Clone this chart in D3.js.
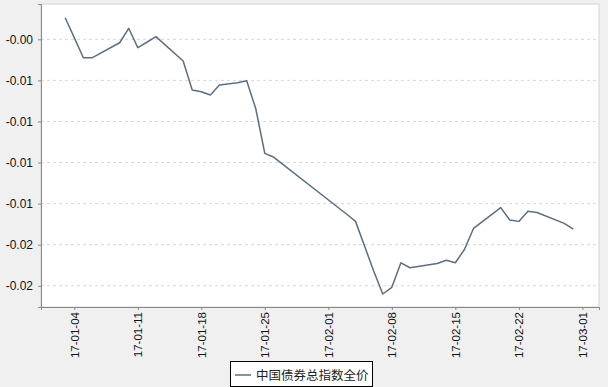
<!DOCTYPE html>
<html>
<head>
<meta charset="utf-8">
<script src="https://cdn.jsdelivr.net/npm/d3@7"></script>
<style>
  body { margin: 0; background: #f0f0f0; }
  svg { display: block; }
</style>
</head>
<body>
<div id="chart"></div>
<script>
// trading days, Jan-Feb 2017
var dates = ["2017-01-03","2017-01-04","2017-01-05","2017-01-06","2017-01-09","2017-01-10","2017-01-11","2017-01-12","2017-01-13",
  "2017-01-16","2017-01-17","2017-01-18","2017-01-19","2017-01-20","2017-01-22","2017-01-23","2017-01-24","2017-01-25","2017-01-26",
  "2017-02-03","2017-02-04","2017-02-06","2017-02-07","2017-02-08","2017-02-09","2017-02-10",
  "2017-02-13","2017-02-14","2017-02-15","2017-02-16","2017-02-17","2017-02-20","2017-02-21","2017-02-22","2017-02-23","2017-02-24",
  "2017-02-27","2017-02-28"];
var values = [-0.00119,-0.00240,-0.00362,-0.00362,-0.00271,-0.00183,-0.00301,-0.00268,-0.00234,
  -0.00382,-0.00559,-0.00569,-0.00589,-0.00528,-0.00514,-0.00502,-0.00671,-0.00944,-0.00968,
  -0.01313,-0.01358,-0.01660,-0.01800,-0.01759,-0.01610,-0.01640,
  -0.01614,-0.01595,-0.01610,-0.01529,-0.01401,-0.01274,-0.01350,-0.01358,-0.01297,-0.01304,
  -0.01370,-0.01405];
var seriesName = "中国债券总指数全价";

var yTicks = [-0.0025,-0.005,-0.0075,-0.01,-0.0125,-0.015,-0.0175];
var yTickLabels = ["-0.00","-0.01","-0.01","-0.01","-0.01","-0.02","-0.02"];
var xTicks = ["2017-01-04","2017-01-11","2017-01-18","2017-01-25","2017-02-01","2017-02-08","2017-02-15","2017-02-22","2017-03-01"];

var w = 608, h = 387;
var pLeft = 41, pTop = 4, pRight = 599, pBottom = 307;
var parse = d3.timeParse("%Y-%m-%d");
var fmt = d3.timeFormat("%y-%m-%d");

var data = dates.map(function(d, i){ return {date: parse(d), value: values[i]}; });

var x = d3.scaleTime()
  .domain([new Date(2016, 11, 31, 8), new Date(2017, 2, 2, 20)])
  .range([pLeft, pRight]);
var y = d3.scaleLinear()
  .domain([-0.000352, -0.01879])
  .range([pTop, pBottom]);

var svg = d3.select("#chart").append("svg")
  .attr("width", w).attr("height", h);

svg.append("rect").attr("width", w).attr("height", h).attr("fill", "#f0f0f0");

// plot area
svg.append("rect")
  .attr("x", pLeft).attr("y", pTop)
  .attr("width", pRight - pLeft).attr("height", pBottom - pTop)
  .attr("fill", "#fff")
  .attr("stroke", "#d4d4d4");

// grid
svg.append("g").selectAll("line")
  .data(yTicks).enter().append("line")
  .attr("x1", pLeft).attr("x2", pRight)
  .attr("y1", function(d){ return y(d); })
  .attr("y2", function(d){ return y(d); })
  .attr("stroke", "#d8d8d8")
  .attr("stroke-dasharray", "3,3");

// y axis
var yAxis = d3.axisLeft(y)
  .tickValues(yTicks)
  .tickSize(3)
  .tickFormat(function(d, i){ return yTickLabels[i]; });
var gy = svg.append("g")
  .attr("transform", "translate(" + pLeft + ",0)")
  .call(yAxis);
gy.select(".domain").attr("stroke", "#888");
gy.selectAll(".tick line").attr("stroke", "#888");
gy.selectAll("text")
  .attr("x", -8)
  .attr("fill", "#111")
  .style("font-family", "Arial, 'Liberation Sans', sans-serif")
  .style("font-size", "12px");

// x axis
var xAxis = d3.axisBottom(x)
  .tickValues(xTicks.map(parse))
  .tickSize(3)
  .tickFormat(fmt);
var gx = svg.append("g")
  .attr("transform", "translate(0," + pBottom + ")")
  .call(xAxis);
gx.select(".domain").attr("stroke", "#888");
gx.selectAll(".tick line").attr("stroke", "#888");
gx.selectAll("text")
  .attr("transform", "rotate(-90)")
  .attr("x", -5).attr("y", 0).attr("dy", "0.35em")
  .attr("text-anchor", "end")
  .attr("fill", "#111")
  .style("font-family", "Arial, 'Liberation Sans', sans-serif")
  .style("font-size", "11.5px");

// line
var line = d3.line()
  .x(function(d){ return x(d.date); })
  .y(function(d){ return y(d.value); });
svg.append("path")
  .datum(data)
  .attr("d", line)
  .attr("fill", "none")
  .attr("stroke", "#5b6f83")
  .attr("stroke-width", 1.5)
  .attr("stroke-linejoin", "round");

// legend
var lg = svg.append("g").attr("transform", "translate(230,361)");
lg.append("rect")
  .attr("x", 0.5).attr("y", 0.5)
  .attr("width", 142).attr("height", 25)
  .attr("fill", "#fff").attr("stroke", "#000");
lg.append("line")
  .attr("x1", 5).attr("x2", 21).attr("y1", 14).attr("y2", 14)
  .attr("stroke", "#5b6f83").attr("stroke-width", 1.5);
lg.append("text")
  .attr("x", 26).attr("y", 18.5)
  .attr("fill", "#222")
  .style("font-family", "'Noto Sans CJK SC', sans-serif")
  .style("font-size", "12.5px")
  .text(seriesName);
</script>
</body>
</html>
